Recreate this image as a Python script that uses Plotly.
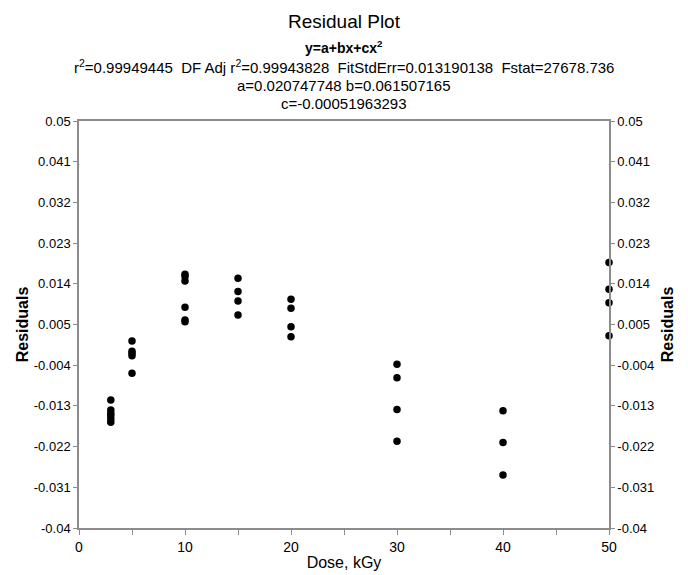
import plotly.graph_objects as go

# Data
dose_3 = [-0.0117, -0.0139, -0.0146, -0.0152, -0.0159, -0.0166]
dose_5 = [0.00135, -0.0009, -0.0014, -0.0019, -0.0058]
dose_10 = [0.0161, 0.0156, 0.0146, 0.0088, 0.0060, 0.0056]
dose_15 = [0.0152, 0.0123, 0.0102, 0.0071]
dose_20 = [0.0106, 0.0086, 0.0045, 0.0023]
dose_30 = [-0.0038, -0.0068, -0.0138, -0.0208]
dose_40 = [-0.0141, -0.0211, -0.0283]
dose_50 = [0.0187, 0.0128, 0.0098, 0.0025]

doses = [3, 5, 10, 15, 20, 30, 40, 50]
groups = [dose_3, dose_5, dose_10, dose_15, dose_20, dose_30, dose_40, dose_50]

y_tickvals = [0.05, 0.041, 0.032, 0.023, 0.014, 0.005, -0.004, -0.013, -0.022, -0.031, -0.04]
y_ticktext = ["0.05", "0.041", "0.032", "0.023", "0.014", "0.005", "-0.004",
              "-0.013", "-0.022", "-0.031", "-0.04"]
x_tickvals = [0, 5, 10, 15, 20, 25, 30, 35, 40, 45, 50]
x_ticktext = ["0", "", "10", "", "20", "", "30", "", "40", "", "50"]

xs, ys = [], []
for d, g in zip(doses, groups):
    xs += [d] * len(g)
    ys += g

FONT = "Liberation Sans, Arial, sans-serif"

fig = go.Figure()
fig.add_trace(go.Scatter(x=xs, y=ys, mode="markers",
                         marker=dict(color="black", size=7.5),
                         showlegend=False, hoverinfo="skip", cliponaxis=False))
fig.add_trace(go.Scatter(x=xs, y=ys, mode="markers", yaxis="y2",
                         marker=dict(color="black", size=7, opacity=0),
                         showlegend=False, hoverinfo="skip"))

axis_col = "#8c8c8c"
fig.update_layout(
    width=680, height=567,
    margin=dict(l=71, r=79, t=113, b=47),
    paper_bgcolor="white", plot_bgcolor="white",
    font=dict(family=FONT, color="black", size=13),
    xaxis=dict(range=[0, 50], tickvals=x_tickvals, ticktext=x_ticktext,
               ticks="outside", ticklen=5, tickcolor=axis_col,
               showline=True, linecolor=axis_col, linewidth=2,
               mirror=True, showgrid=False, zeroline=False, automargin=False,
               tickfont=dict(size=14),
               title=dict(text="Dose, kGy", font=dict(size=16), standoff=3)),
    yaxis=dict(range=[-0.04, 0.05], tickvals=y_tickvals, ticktext=y_ticktext,
               ticks="outside", ticklen=4, tickcolor=axis_col,
               showline=True, linecolor=axis_col, linewidth=1.5,
               showgrid=False, zeroline=False, automargin=False,
               tickfont=dict(size=13),
               title=dict(text="<b>Residuals</b>", font=dict(size=16), standoff=1)),
    yaxis2=dict(range=[-0.04, 0.05], tickvals=y_tickvals, ticktext=y_ticktext,
                overlaying="y", side="right", anchor="x",
                ticks="outside", ticklen=4, tickcolor=axis_col,
                showline=True, linecolor=axis_col, linewidth=1.5,
                showgrid=False, zeroline=False, automargin=False,
                tickfont=dict(size=13),
                title=dict(text="<b>Residuals</b>", font=dict(size=16), standoff=9)),
)

lines = [
    ("Residual Plot", 19, 100),
    ("<b>y=a+bx+cx<sup>2</sup></b>", 14, 74),
    ("r<sup>2</sup>=0.99949445  DF Adj r<sup>2</sup>=0.99943828  FitStdErr=0.013190138  Fstat=27678.736", 15, 55),
    ("a=0.020747748 b=0.061507165", 15, 36),
    ("c=-0.00051963293", 15, 18),
]
for text, size, shift in lines:
    fig.add_annotation(text=text, xref="paper", yref="paper", x=0.5, y=1,
                       yshift=shift, showarrow=False, xanchor="center",
                       yanchor="middle", font=dict(size=size, family=FONT))

fig.write_html("out.html")
